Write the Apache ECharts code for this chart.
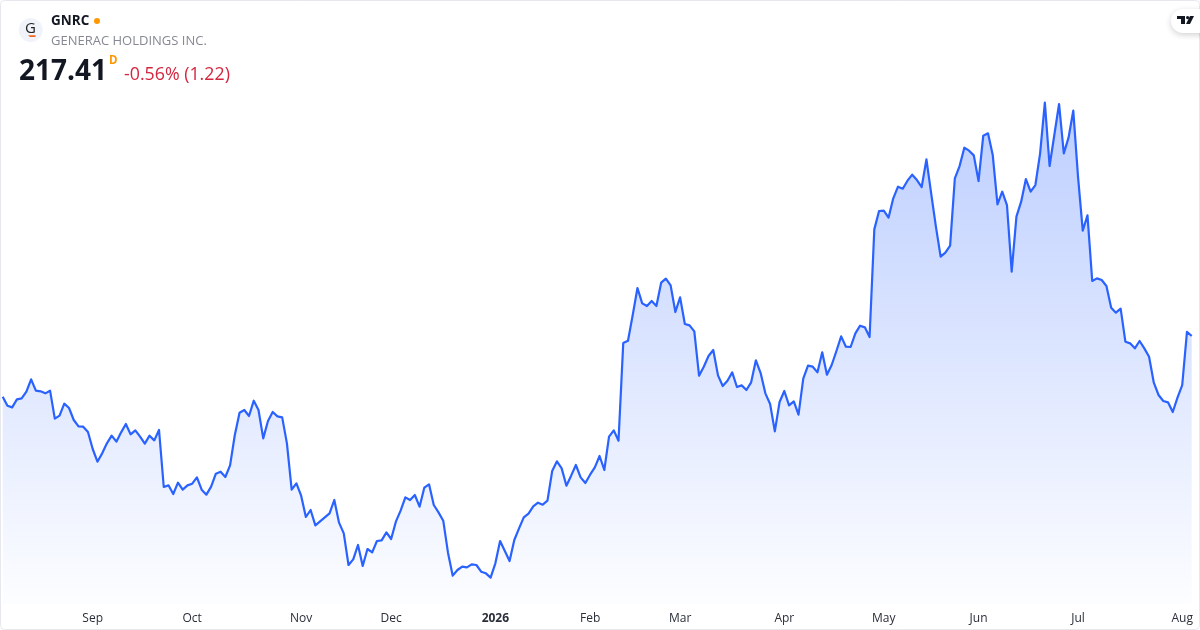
<!DOCTYPE html>
<html><head><meta charset="utf-8">
<style>html,body{margin:0;padding:0;background:#fff}#c{width:1200px;height:630px}</style>
<script src="https://cdn.jsdelivr.net/npm/echarts@6/dist/echarts.min.js"></script>
</head><body><div id="c"></div>
<script>
const closes = [
199.2,196.5,196.0,198.4,198.7,200.7,204.4,201.0,200.8,200.2,201.0,192.6,193.5,197.1,195.8,192.2,190.3,190.2,188.6,183.5,
179.7,182.2,185.2,187.5,185.7,188.5,191.0,187.9,189.1,187.2,185.1,187.5,186.1,189.2,172.1,172.6,170.0,173.4,171.3,172.6,
173.1,175.0,171.3,169.8,172.2,176.1,176.7,175.1,178.6,187.7,194.4,195.2,193.4,198.0,195.2,186.7,191.9,194.6,193.3,193.0,
185.2,171.3,173.2,169.5,163.1,165.2,160.6,161.8,163.0,164.2,168.2,161.4,158.2,148.7,150.4,154.7,148.4,153.5,152.5,155.9,
156.1,158.5,156.5,161.7,165.0,169.0,168.2,169.7,166.2,171.9,172.9,166.7,164.5,162.0,152.4,145.5,147.2,148.2,148.0,148.9,
148.7,146.7,146.2,144.9,149.2,155.9,152.9,149.9,156.2,159.7,163.0,164.1,166.3,167.4,166.8,168.0,176.9,179.8,177.7,172.5,
175.5,178.7,175.0,173.3,175.8,178.0,181.4,177.2,187.2,189.1,186.0,215.3,216.0,223.7,231.8,227.2,226.4,227.9,226.4,233.4,
234.6,232.6,224.6,229.0,221.0,220.6,218.8,205.5,208.2,211.4,213.2,205.6,202.4,204.0,206.5,202.1,202.6,201.2,203.5,210.1,
206.3,200.2,197.0,188.8,197.6,200.9,196.6,197.8,193.8,204.6,208.5,208.2,206.5,212.5,205.8,208.7,212.9,217.3,214.2,214.1,
218.2,220.5,220.0,217.1,249.4,254.9,255.0,252.9,258.7,262.2,261.6,264.0,265.8,264.2,262.1,270.4,260.2,250.2,241.2,242.4,
244.5,264.7,268.4,273.9,273.0,271.6,263.9,277.5,278.2,271.7,256.9,260.7,256.7,236.7,253.2,257.7,264.5,260.7,262.7,272.2,
287.4,268.4,277.7,287.0,272.2,276.9,285.0,265.2,249.0,253.6,233.9,234.7,234.2,232.4,225.9,224.4,225.6,215.7,215.2,213.7,
215.9,213.7,211.2,203.4,199.7,197.9,197.5,194.6,198.9,202.7,218.63,217.41
];
const tickIndexes = [19,40,63,82,104,124,143,165,186,206,227,249];
const tickLabels = ['Sep','Oct','Nov','Dec','2026','Feb','Mar','Apr','May','Jun','Jul','Aug'];
const yearLabels = ['2026'];
const symbol = 'GNRC', companyName = 'GENERAC HOLDINGS INC.', lastPrice = '217.41', interval = 'D', changeText = '-0.56% (1.22)';
const categories = closes.map((_, i) => i);

const FONT = '"Open Sans","Noto Sans",sans-serif';
const chart = echarts.init(document.getElementById('c'), null, {renderer:'canvas', width:1200, height:630});
chart.setOption({
  animation:false,
  backgroundColor:'#ffffff',
  grid:{left:2.7, right:8.3, top:0.7, bottom:26},
  xAxis:{
    type:'category', data:categories, boundaryGap:false,
    axisLine:{show:false}, axisTick:{show:false}, splitLine:{show:false},
    axisLabel:{
      show:true, hideOverlap:false, margin:9,
      interval:(i)=>tickIndexes.includes(i),
      formatter:(v)=>{
        const k = tickIndexes.indexOf(Number(v));
        if(k<0) return '';
        const t = tickLabels[k];
        return yearLabels.includes(t) ? '{y|'+t+'}' : '{m|'+t+'}';
      },
      rich:{
        m:{fontFamily:FONT,fontSize:12,color:'#2a2e39'},
        y:{fontFamily:FONT,fontSize:12,fontWeight:'bold',color:'#2a2e39'}
      }
    }
  },
  yAxis:{type:'value', min:137, max:318, show:false, splitLine:{show:false}},
  series:[{
    type:'line', data:closes, showSymbol:false, smooth:false, clip:false,
    lineStyle:{color:'#2962ff', width:2.2, join:'round'},
    itemStyle:{color:'#2962ff'},
    areaStyle:{opacity:1,color:new echarts.graphic.LinearGradient(0,0,0,1,[
      {offset:0,color:'rgba(41,98,255,0.31)'},
      {offset:1,color:'rgba(41,98,255,0.01)'}
    ])}
  }],
  graphic:[
    {type:'rect',silent:true,z:100,shape:{x:0.5,y:0.5,width:1199,height:629,r:4},style:{fill:'none',stroke:'#e6e8ee',lineWidth:1}},
    {type:'circle',z:100,shape:{cx:30.7,cy:30,r:12},style:{fill:'#f0f3fa'}},
    {type:'text',z:101,x:30.5,y:29,style:{text:'G',fontFamily:FONT,fontSize:15,fill:'#222',align:'center',verticalAlign:'middle'}},
    {type:'polygon',z:101,shape:{points:[[28,35.3],[35.5,35.3],[35.5,37],[30,37]]},style:{fill:'#f2641e'}},
    {type:'text',z:101,x:51,y:21,style:{text:symbol,fontFamily:FONT,fontSize:13.5,fontWeight:'bold',fill:'#131722',align:'left',verticalAlign:'middle'}},
    {type:'circle',z:101,shape:{cx:97,cy:21,r:3},style:{fill:'#ff9800'}},
    {type:'text',z:101,x:51,y:41.5,style:{text:companyName,fontFamily:FONT,fontSize:13,fill:'#868993',align:'left',verticalAlign:'middle'}},
    {type:'text',z:101,x:19,y:72,style:{text:lastPrice,fontFamily:FONT,fontSize:28,fontWeight:'bold',fill:'#131722',align:'left',verticalAlign:'middle'}},
    {type:'text',z:101,x:109,y:61,style:{text:interval,fontFamily:FONT,fontSize:11.5,fontWeight:'bold',fill:'#ff9800',align:'left',verticalAlign:'middle'}},
    {type:'text',z:101,x:124,y:75,style:{text:changeText,fontFamily:FONT,fontSize:17.8,fill:'#d3263f',align:'left',verticalAlign:'middle'}},
    {type:'rect',z:100,shape:{x:1171,y:9,width:50,height:24,r:12},style:{fill:'#fff',shadowBlur:6,shadowColor:'rgba(0,0,0,0.18)',shadowOffsetY:2}},
    {type:'polygon',z:101,shape:{points:[[1177,16],[1185,16],[1185,24],[1181,24],[1181,19],[1177,19]]},style:{fill:'#131722'}},
    {type:'circle',z:101,shape:{cx:1187.6,cy:17.6,r:1.6},style:{fill:'#131722'}},
    {type:'polygon',z:101,shape:{points:[[1190,16],[1194,16],[1190,24],[1186,24]]},style:{fill:'#131722'}}
  ]
});
</script></body></html>
